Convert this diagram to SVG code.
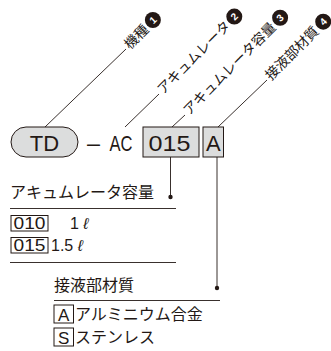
<svg xmlns="http://www.w3.org/2000/svg" width="331" height="351" viewBox="0 0 331 351">
<defs>
<style>
.lat{font-family:"Liberation Sans",Arial,sans-serif;fill:#231815}
.jp{font-family:"Noto Sans CJK JP","Noto Sans",sans-serif;fill:#231815}
.ln{stroke:#231815;stroke-width:0.9;fill:none}
.box{fill:#dcdddd;stroke:#231815;stroke-width:1}
.wbox{fill:#fff;stroke:#231815;stroke-width:1}
.num{fill:#231815}
.numt{font-family:"Liberation Sans",Arial,sans-serif;font-weight:bold;font-size:10px;fill:#fff;text-anchor:middle}
.lbl{font-size:13.8px}
</style>
</defs>
<rect width="331" height="351" fill="#fff"/>
<g id="connectors">
<line class="ln" x1="45" y1="127" x2="126" y2="49"/>
<line class="ln" x1="125" y1="127" x2="159" y2="94"/>
<line class="ln" x1="172" y1="127" x2="185" y2="115"/>
<line class="ln" x1="218" y1="127" x2="267" y2="80"/>
<line class="ln" x1="170.5" y1="157" x2="170.5" y2="197"/>
<circle cx="170.5" cy="197" r="2.2" fill="#231815"/>
<line class="ln" x1="217" y1="157" x2="217" y2="288"/>
<circle cx="217" cy="288" r="2.2" fill="#231815"/>
<line class="ln" x1="10" y1="208.5" x2="176" y2="208.5"/>
<line class="ln" x1="10" y1="262.5" x2="176" y2="262.5"/>
<line class="ln" x1="54" y1="300.5" x2="220" y2="300.5"/>
</g>
<g id="label1" transform="translate(126,49) rotate(-45)">
<text class="jp lbl" x="2" y="3.5">機種</text>
<circle class="num" cx="39.5" cy="-1.5" r="8"/>
<text class="numt" x="39.5" y="2">1</text>
</g>
<g id="label2" transform="translate(159,94) rotate(-45)">
<text class="jp lbl" x="2" y="3.5">アキュムレータ</text>
<circle class="num" cx="108" cy="-1.5" r="8"/>
<text class="numt" x="108" y="2">2</text>
</g>
<g id="label3" transform="translate(185,115) rotate(-45)">
<text class="jp lbl" x="2" y="3.5">アキュムレータ容量</text>
<circle class="num" cx="136" cy="-1.5" r="8"/>
<text class="numt" x="136" y="2">3</text>
</g>
<g id="label4" transform="translate(267,80) rotate(-45)">
<text class="jp lbl" x="2" y="3.5">接液部材質</text>
<circle class="num" cx="81" cy="-1.5" r="8"/>
<text class="numt" x="81" y="2">4</text>
</g>
<g id="model">
<rect class="box" x="11" y="127" width="67" height="30" rx="15" fill="#d3d3d3"/>
<text class="lat" x="44.5" y="151" font-size="22" text-anchor="middle">TD</text>
</g>
<g id="dash"><text class="lat" x="87" y="151" font-size="22" textLength="13" lengthAdjust="spacingAndGlyphs">–</text></g>
<g id="ac"><text class="lat" x="109.5" y="151" font-size="22" textLength="23" lengthAdjust="spacingAndGlyphs">AC</text></g>
<g id="capacity">
<rect class="box" x="143" y="127" width="56" height="30"/>
<text class="lat" x="148.5" y="151" font-size="22" textLength="42" lengthAdjust="spacingAndGlyphs">015</text>
</g>
<g id="material">
<rect class="box" x="203" y="127" width="20.5" height="30"/>
<text class="lat" x="213.25" y="151" font-size="22" text-anchor="middle">A</text>
</g>
<g id="capacity-table">
<text class="jp" x="10" y="198" font-size="16">アキュムレータ容量</text>
<rect class="wbox" x="11" y="215.5" width="37" height="15.5"/>
<text class="lat" x="13.5" y="229" font-size="16" textLength="32" lengthAdjust="spacingAndGlyphs">010</text>
<text class="lat" x="70" y="229" font-size="16">1 <tspan font-style="italic">ℓ</tspan></text>
<rect class="wbox" x="11" y="237.5" width="37" height="15.5"/>
<text class="lat" x="13.5" y="251" font-size="16" textLength="32" lengthAdjust="spacingAndGlyphs">015</text>
<text class="lat" x="51" y="251" font-size="16">1.5 <tspan font-style="italic">ℓ</tspan></text>
</g>
<g id="material-table">
<text class="jp" x="54" y="291" font-size="16">接液部材質</text>
<rect class="wbox" x="54" y="305" width="19.5" height="18"/>
<text class="lat" x="63.75" y="320.5" font-size="17" text-anchor="middle">A</text>
<text class="jp" x="75" y="320" font-size="16">アルミニウム合金</text>
<rect class="wbox" x="54" y="328" width="19.5" height="18"/>
<text class="lat" x="63.75" y="343.5" font-size="17" text-anchor="middle">S</text>
<text class="jp" x="75" y="343" font-size="16">ステンレス</text>
</g>
</svg>
